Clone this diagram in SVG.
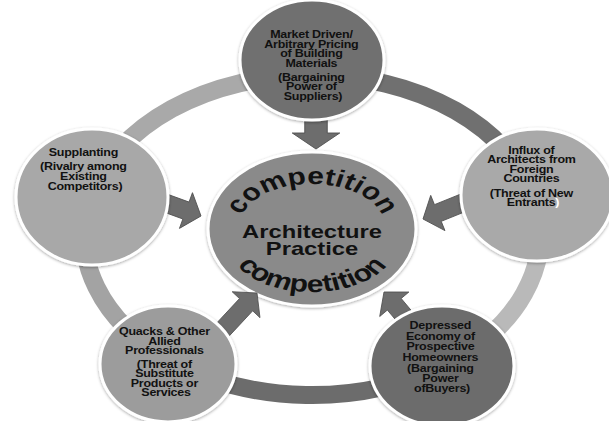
<svg xmlns="http://www.w3.org/2000/svg" xmlns:xlink="http://www.w3.org/1999/xlink" width="609" height="421" viewBox="0 0 609 421">
  <style>
    .node { stroke: #ffffff; stroke-width: 3; filter: url(#sh); }
    .lbl { font-family: "Liberation Sans", Arial, sans-serif; font-weight: bold; font-size: 10px; fill: #111111; text-anchor: middle; letter-spacing: -0.2px; }
    .big { font-family: "Liberation Sans", Arial, sans-serif; font-weight: bold; fill: #111111; text-anchor: middle; }
    .ring { fill: none; stroke-width: 18; }
    .arrow { fill: #6d6d6d; stroke: #4f4f4f; stroke-width: 0.8; stroke-linejoin: miter; }
  </style>
  <defs>
    <filter id="sh" x="-10%" y="-10%" width="120%" height="120%">
      <feDropShadow dx="0" dy="1" stdDeviation="1.5" flood-color="#000000" flood-opacity="0.35"/>
    </filter>
    <!-- block arrow, tip at origin, pointing along +x -->
    <path id="blk" d="M0,0 L-16,-19 L-16,-9 L-52,-9 L-52,9 L-16,9 L-16,19 Z"/>
    <!-- baselines for the curved words (local, unstretched x) -->
    <path id="arcTop" d="M-58,226 A58,42 0 0 1 58,226"/>
    <path id="arcBot" d="M-66,246 A66,46 0 0 0 66,246"/>
  </defs>

  <rect width="609" height="421" fill="#ffffff"/>

  <!-- outer cycle ring -->
  <g id="ring">
    <path class="ring" stroke="#707070" d="M312,75 A228,160 0 0 1 535,201.7"/>
    <path class="ring" stroke="#b9b9b9" d="M535,201.7 A228,160 0 0 1 442.8,366"/>
    <path class="ring" stroke="#6c6c6c" d="M442.8,366 A228,160 0 0 1 171.6,361.1"/>
    <path class="ring" stroke="#a3a3a3" d="M171.6,361.1 A228,160 0 0 1 90.8,196.3"/>
    <path class="ring" stroke="#a9a9a9" d="M90.8,196.3 A228,160 0 0 1 312,75"/>
  </g>

  <!-- central node -->
  <g id="center">
    <ellipse class="node" cx="312" cy="229" rx="104" ry="77" fill="#8a8a8a"/>
    <g transform="translate(312 0) scale(1.25 1)">
      <text class="big" font-size="24"><textPath xlink:href="#arcTop" href="#arcTop" startOffset="50%">competition</textPath></text>
      <text class="big" font-size="24"><textPath xlink:href="#arcBot" href="#arcBot" startOffset="50%">competition</textPath></text>
      <text class="big" font-size="19" x="0" y="238">Architecture</text>
      <text class="big" font-size="19" x="0" y="255">Practice</text>
    </g>
  </g>

  <!-- connectors: block arrows into the centre -->
  <g id="connectors">
    <use href="#blk" xlink:href="#blk" class="arrow" transform="translate(316 149) rotate(90) scale(1 1.25)"/>
    <use href="#blk" xlink:href="#blk" class="arrow" transform="translate(201 216) rotate(20)"/>
    <use href="#blk" xlink:href="#blk" class="arrow" transform="translate(423 219) rotate(158)"/>
    <use href="#blk" xlink:href="#blk" class="arrow" transform="translate(257 293) rotate(-47)"/>
    <use href="#blk" xlink:href="#blk" class="arrow" transform="translate(384 292) rotate(-130)"/>
  </g>

  <!-- suppliers -->
  <g id="suppliers">
    <ellipse class="node" cx="312" cy="60" rx="72" ry="60" fill="#707070"/>
    <text class="lbl" transform="translate(313 0) scale(1.25 1)">
      <tspan x="0" y="38.5">Market Driven/</tspan>
      <tspan x="0" y="48">Arbitrary Pricing</tspan>
      <tspan x="0" y="57.5">of Building</tspan>
      <tspan x="0" y="67">Materials</tspan>
      <tspan x="0" y="81">(Bargaining</tspan>
      <tspan x="0" y="90.5">Power of</tspan>
      <tspan x="0" y="100">Suppliers)</tspan>
    </text>
  </g>

  <!-- rivalry -->
  <g id="rivalry">
    <ellipse class="node" cx="92" cy="197" rx="76" ry="68" fill="#a8a8a8"/>
    <text class="lbl" transform="translate(85 0) scale(1.25 1)">
      <tspan x="0" y="156">Supplanting</tspan>
      <tspan x="0" y="170.5">(Rivalry among</tspan>
      <tspan x="0" y="180">Existing</tspan>
      <tspan x="0" y="190">Competitors)</tspan>
    </text>
  </g>

  <!-- new entrants -->
  <g id="entrants">
    <ellipse class="node" cx="537" cy="195" rx="76" ry="66" fill="#a9a9a9"/>
    <text class="lbl" transform="translate(533 0) scale(1.25 1)">
      <tspan x="0" y="154">Influx of</tspan>
      <tspan x="0" y="163.5">Architects from</tspan>
      <tspan x="0" y="173">Foreign</tspan>
      <tspan x="0" y="182.5">Countries</tspan>
      <tspan x="0" y="197">(Threat of New</tspan>
      <tspan x="0" y="206.5">Entrants<tspan fill="#ffffff">)</tspan></tspan>
    </text>
  </g>

  <!-- substitutes -->
  <g id="substitutes">
    <ellipse class="node" cx="168" cy="364" rx="68" ry="58" fill="#9c9c9c"/>
    <text class="lbl" transform="translate(166 0) scale(1.25 1)">
      <tspan x="0" y="335.5">Quacks &amp; Other</tspan>
      <tspan x="0" y="345">Allied</tspan>
      <tspan x="0" y="354.5">Professionals</tspan>
      <tspan x="0" y="368">(Threat of</tspan>
      <tspan x="0" y="377.5">Substitute</tspan>
      <tspan x="0" y="387">Products or</tspan>
      <tspan x="0" y="396.5">Services</tspan>
    </text>
  </g>

  <!-- buyers -->
  <g id="buyers">
    <ellipse class="node" cx="442" cy="366" rx="72" ry="60" fill="#6c6c6c"/>
    <text class="lbl" transform="translate(442 0) scale(1.25 1)">
      <tspan x="0" y="329.5">Depressed</tspan>
      <tspan x="0" y="340">Economy of</tspan>
      <tspan x="0" y="350.5">Prospective</tspan>
      <tspan x="0" y="361">Homeowners</tspan>
      <tspan x="0" y="372">(Bargaining</tspan>
      <tspan x="0" y="382">Power</tspan>
      <tspan x="0" y="392">ofBuyers)</tspan>
    </text>
  </g>
</svg>
